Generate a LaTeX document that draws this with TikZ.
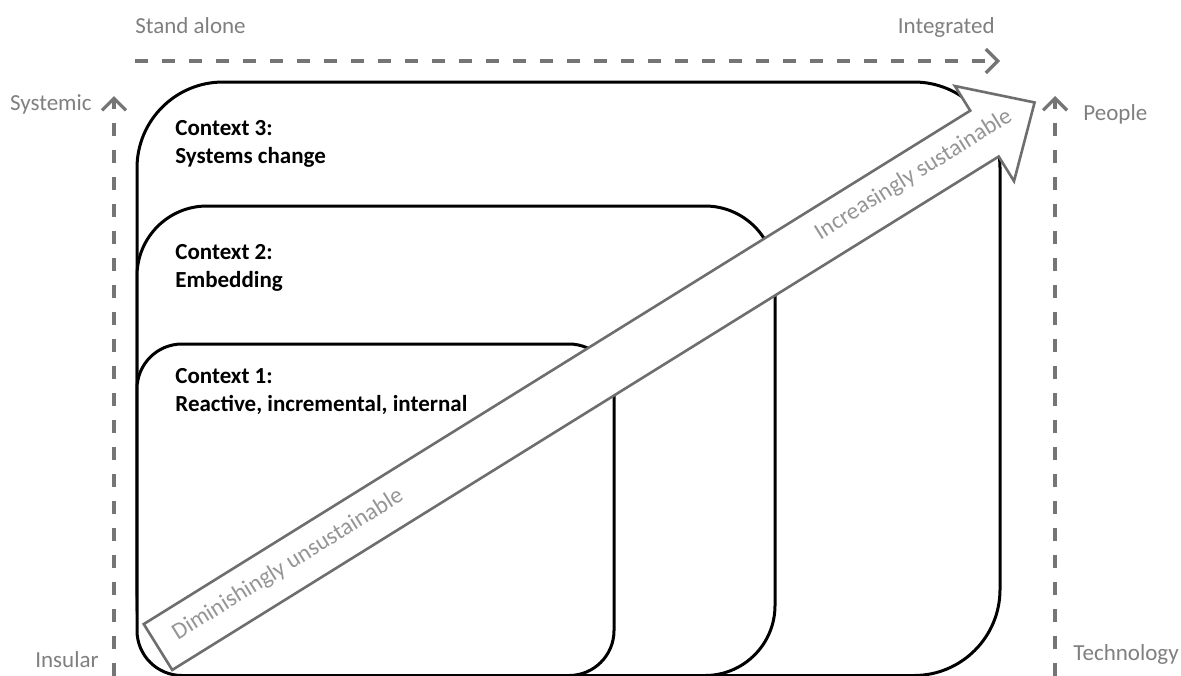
\documentclass[tikz,border=0pt]{standalone}
\usepackage{fontspec}
\setmainfont{Carlito}
\usetikzlibrary{arrows.meta}
\definecolor{lblc}{HTML}{7F7F7F}
\definecolor{dshc}{HTML}{757575}
\definecolor{arrc}{HTML}{6E6E6E}
\definecolor{atxc}{HTML}{959595}
\begin{document}
\begin{tikzpicture}[x=0.5pt,y=-0.5pt,
  ctxbox/.style={draw=black, line width=1.5pt, fill=white},
  axisline/.style={draw=dshc, line width=1.6pt, dash pattern=on 6.5pt off 7pt,
    -{Straight Barb[length=6pt,width=12pt,line width=1.6pt]}},
  lbltext/.style={text=lblc, font=\fontsize{11.5pt}{14pt}\selectfont, inner sep=0pt},
  ctxtext/.style={font=\bfseries\fontsize{11.5pt}{14pt}\selectfont, inner sep=0pt, anchor=base west, align=left},
  arrtext/.style={text=atxc, font=\fontsize{11.8pt}{14pt}\selectfont, inner sep=0pt, anchor=base west, transform shape},
  bigarrow/.style={draw=arrc, line width=1.3pt, fill=white, line join=miter}
]
\useasboundingbox (0,0) rectangle (1181,675);

% axis labels
\node[lbltext, anchor=base west] (standalone) at (135,33) {Stand alone};
\node[lbltext, anchor=base east] (integrated) at (995,33) {Integrated};
\node[lbltext, anchor=base east] (systemic) at (92,110) {Systemic};
\node[lbltext, anchor=base east] (insular) at (99,667) {Insular};
\node[lbltext, anchor=base west] (people) at (1083,120) {People};
\node[lbltext, anchor=base west] (technology) at (1073,660) {Technology};

% axis coordinates
\coordinate (topS) at (135,61);
\coordinate (topE) at (1000,61);
\coordinate (leftS) at (114,676);
\coordinate (leftE) at (114,96);
\coordinate (rightS) at (1055,676);
\coordinate (rightE) at (1055,96);
\draw[axisline] (topS) -- (topE);
\draw[axisline] (leftS) -- (leftE);
\draw[axisline] (rightS) -- (rightE);

% context boxes
\draw[ctxbox, rounded corners=43pt] (137,82) rectangle (1000,675.5);
\draw[ctxbox, rounded corners=35pt] (137,206) rectangle (775,675.5);
\draw[ctxbox, rounded corners=22.5pt] (137,344) rectangle (614,675.5);

\node[ctxtext] (c3) at (175,163) {Context 3:\\Systems change};
\node[ctxtext] (c2) at (175,287) {Context 2:\\Embedding};
\node[ctxtext] (c1) at (175,411) {Context 1:\\Reactive, incremental, internal};

% big arrow
\begin{scope}[shift={(158,647)}, rotate=31.85]
  \draw[bigarrow] (0,-27) -- (973,-27) -- (973,-56) -- (1032,0) -- (973,56) -- (973,27) -- (0,27) -- cycle;
  \node[arrtext] (dimin) at (20,5) {Diminishingly unsustainable};
  \node[arrtext] (incr) at (777,4) {Increasingly sustainable};
\end{scope}
\end{tikzpicture}
\end{document}
